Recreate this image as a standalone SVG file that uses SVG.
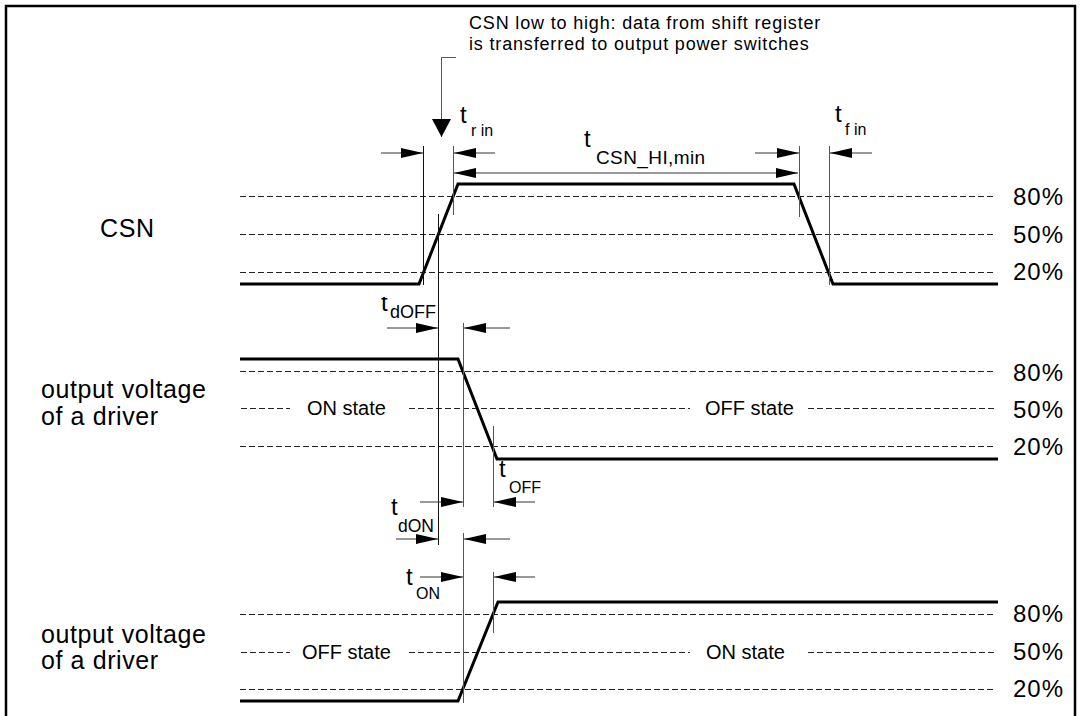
<svg xmlns="http://www.w3.org/2000/svg" width="1080" height="716" viewBox="0 0 1080 716">
<style>
text{font-family:"Liberation Sans",Arial,sans-serif;fill:#000}
.lbl{font-size:25px;letter-spacing:0.6px}
.pct{font-size:24px;letter-spacing:1px}
.st{font-size:20px}
.note{font-size:18px;letter-spacing:0.83px}
.t{font-size:24px}
.sub{font-size:16px}
.wave{fill:none;stroke:#000;stroke-width:3;stroke-linejoin:miter}
.dash{stroke:#222;stroke-width:1;stroke-dasharray:5.5 3.5;fill:none;shape-rendering:crispEdges}
.vk{stroke:#111;stroke-width:1;shape-rendering:crispEdges}
.vg{stroke:#555;stroke-width:1;shape-rendering:crispEdges}
.dim{stroke:#333;stroke-width:1;fill:none;marker-end:url(#ah)}
</style>
<defs>
<marker id="ah" viewBox="0 0 22 10" refX="22" refY="5" markerWidth="22" markerHeight="10" markerUnits="userSpaceOnUse" orient="auto-start-reverse"><path d="M0,0 L22,5 L0,10 Z" fill="#000"/></marker>
<marker id="ahd" viewBox="0 0 18 19" refX="18" refY="9.5" markerWidth="18" markerHeight="19" markerUnits="userSpaceOnUse" orient="auto"><path d="M0,0 L18,9.5 L0,19 Z" fill="#000"/></marker>
<clipPath id="clipt"><rect x="370" y="297" width="30" height="20"/></clipPath>
</defs>
<rect width="1080" height="716" fill="#fff"/>
<g id="frame" stroke="#000" stroke-width="2.5" fill="none">
<path d="M6,716 L6,6 L1075,6 L1075,716"/>
</g>
<g id="grid">
<path class="dash" d="M240,196.5 H995 M240,234.5 H995 M240,272.5 H995"/>
<path class="dash" d="M240,371.5 H995 M240,446.5 H995 M241,408.5 H290 M409,408.5 H690 M808,408.5 H995"/>
<path class="dash" d="M240,614.5 H995 M240,689.5 H995 M241,652.5 H290 M409,652.5 H690 M808,652.5 H995"/>
</g>
<g id="csn-signal">
<text class="lbl" x="100" y="237">CSN</text>
<path class="wave" d="M240,284 L419,284 L458,184 L794,184 L833,284 L998,284"/>
<text class="pct" x="1013" y="205">80%</text>
<text class="pct" x="1013" y="243">50%</text>
<text class="pct" x="1013" y="280">20%</text>
</g>
<g id="driver1">
<text class="lbl" x="41" y="398">output voltage</text>
<text class="lbl" x="41" y="425">of a driver</text>
<path class="wave" d="M240,359 L458,359 L497,459 L998,459"/>
<text class="st" x="307" y="415">ON state</text>
<text class="st" x="705" y="415">OFF state</text>
<text class="pct" x="1013" y="381">80%</text>
<text class="pct" x="1013" y="418">50%</text>
<text class="pct" x="1013" y="455">20%</text>
</g>
<g id="driver2">
<text class="lbl" x="41" y="643">output voltage</text>
<text class="lbl" x="41" y="669">of a driver</text>
<path class="wave" d="M240,701 L458,701 L498,602 L998,602"/>
<text class="st" x="302" y="659">OFF state</text>
<text class="st" x="706" y="659">ON state</text>
<text class="pct" x="1013" y="622">80%</text>
<text class="pct" x="1013" y="660">50%</text>
<text class="pct" x="1013" y="697">20%</text>
</g>
<g id="note">
<text class="note" x="469" y="29">CSN low to high: data from shift register</text>
<text class="note" x="469" y="50">is transferred to output power switches</text>
</g>
<g id="connectors">
<polyline points="456,57.5 441.5,57.5 441.5,137" fill="none" stroke="#555" stroke-width="1" marker-end="url(#ahd)"/>
<line class="vk" x1="423.5" y1="146" x2="423.5" y2="285"/>
<line class="vg" x1="453.5" y1="146" x2="453.5" y2="215"/>
<line class="vg" x1="799.5" y1="146" x2="799.5" y2="217"/>
<line class="vg" x1="829.5" y1="146" x2="829.5" y2="285"/>
<line class="vk" x1="438.5" y1="214" x2="438.5" y2="545"/>
<line class="vg" x1="463.5" y1="323" x2="463.5" y2="507"/>
<line class="vg" x1="493.5" y1="426" x2="493.5" y2="507"/>
<line class="vg" x1="463.5" y1="533" x2="463.5" y2="703"/>
<line class="vg" x1="493.5" y1="572" x2="493.5" y2="633"/>
<line class="dim" x1="381" y1="153" x2="423" y2="153"/>
<line class="dim" x1="495" y1="153" x2="454" y2="153"/>
<line class="dim" x1="755" y1="153" x2="799" y2="153"/>
<line class="dim" x1="872" y1="153" x2="830" y2="153"/>
<line class="dim" x1="454" y1="173" x2="798" y2="173" style="marker-start:url(#ah)"/>
<line class="dim" x1="387" y1="328" x2="438" y2="328"/>
<line class="dim" x1="510" y1="328" x2="464" y2="328"/>
<line class="dim" x1="420" y1="502" x2="463" y2="502"/>
<line class="dim" x1="535" y1="502" x2="494" y2="502"/>
<line class="dim" x1="396" y1="539" x2="438" y2="539"/>
<line class="dim" x1="510" y1="539" x2="464" y2="539"/>
<line class="dim" x1="420" y1="577" x2="463" y2="577"/>
<line class="dim" x1="535" y1="577" x2="494" y2="577"/>
</g>
<g id="timing-labels">
<text class="t" x="460" y="123">t</text><text class="sub" x="471" y="136">r in</text>
<text class="t" x="835" y="122">t</text><text class="sub" x="845" y="135">f in</text>
<text class="t" x="584" y="147">t</text><text class="sub" x="596" y="164" style="font-size:19px;letter-spacing:0.4px">CSN_HI,min</text>
<text class="t" x="381" y="311" clip-path="url(#clipt)">t</text><text class="sub" x="390" y="318" style="font-size:18px">dOFF</text>
<text class="t" x="499" y="477">t</text><text class="sub" x="509" y="493">OFF</text>
<text class="t" x="391" y="515">t</text><text class="sub" x="398" y="532" style="font-size:17.5px">dON</text>
<text class="t" x="406" y="585">t</text><text class="sub" x="416" y="599">ON</text>
</g>
</svg>
